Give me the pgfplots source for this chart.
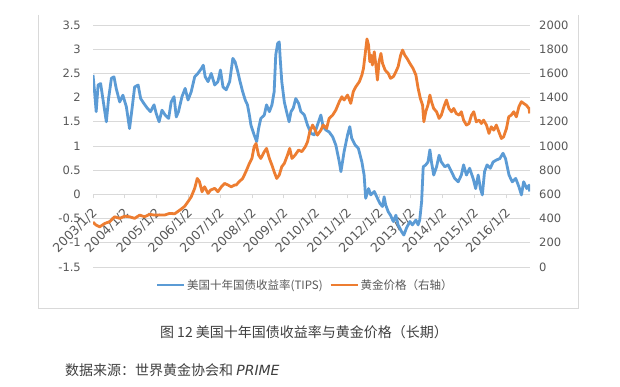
\documentclass[border=0pt]{standalone}
\usepackage{pgfplots}
\usepackage{pgfplotstable}
\pgfplotsset{compat=1.18}
\usepackage{fontspec}
\setmainfont{DejaVu Sans}
\newfontfamily\cjk{Noto Sans CJK SC}
\definecolor{tipsblue}{HTML}{5B9BD5}
\definecolor{goldor}{HTML}{ED7D31}
\definecolor{tickgray}{HTML}{595959}
\definecolor{gridgray}{HTML}{D9D9D9}
\definecolor{textgray}{HTML}{404040}

\pgfplotstableread{
year tips
2003.00 2.47
2003.05 2.12
2003.10 1.71
2003.16 2.26
2003.24 2.29
2003.31 1.98
2003.42 1.50
2003.49 1.98
2003.58 2.40
2003.66 2.43
2003.73 2.19
2003.84 1.91
2003.94 2.05
2004.05 1.81
2004.15 1.36
2004.23 1.78
2004.31 2.22
2004.42 2.26
2004.50 1.98
2004.60 1.88
2004.71 1.78
2004.81 1.71
2004.92 1.85
2004.99 1.67
2005.08 1.50
2005.17 1.74
2005.27 1.64
2005.38 1.57
2005.46 1.91
2005.55 2.02
2005.62 1.60
2005.69 1.71
2005.80 2.02
2005.90 2.19
2005.99 1.95
2006.09 2.12
2006.20 2.43
2006.30 2.50
2006.41 2.60
2006.47 2.67
2006.53 2.43
2006.62 2.33
2006.72 2.50
2006.83 2.26
2006.93 2.33
2007.01 2.57
2007.09 2.22
2007.19 2.16
2007.30 2.33
2007.40 2.81
2007.47 2.74
2007.55 2.55
2007.62 2.35
2007.71 2.12
2007.79 1.95
2007.86 1.85
2007.92 1.64
2007.97 1.43
2008.07 1.23
2008.15 1.09
2008.21 1.36
2008.28 1.57
2008.39 1.64
2008.46 1.85
2008.55 1.71
2008.63 1.85
2008.70 2.12
2008.75 2.88
2008.81 3.12
2008.86 3.15
2008.89 2.81
2008.94 2.33
2009.02 1.91
2009.09 1.71
2009.17 1.50
2009.23 1.71
2009.30 1.78
2009.38 1.98
2009.47 1.88
2009.54 1.71
2009.65 1.64
2009.75 1.43
2009.86 1.26
2009.96 1.23
2010.06 1.43
2010.17 1.64
2010.24 1.40
2010.33 1.33
2010.43 1.29
2010.54 1.19
2010.64 1.02
2010.75 0.67
2010.80 0.47
2010.85 0.67
2010.90 0.88
2011.01 1.23
2011.08 1.40
2011.14 1.16
2011.25 1.02
2011.35 0.95
2011.46 0.67
2011.53 0.40
2011.58 -0.08
2011.67 0.12
2011.74 -0.01
2011.85 0.06
2011.95 -0.08
2012.03 -0.19
2012.11 -0.25
2012.16 -0.05
2012.21 -0.22
2012.29 -0.36
2012.36 -0.43
2012.45 -0.56
2012.53 -0.43
2012.60 -0.63
2012.71 -0.77
2012.78 -0.84
2012.86 -0.70
2012.97 -0.56
2013.05 -0.63
2013.16 -0.53
2013.23 -0.63
2013.28 -0.53
2013.34 -0.15
2013.39 0.57
2013.47 0.61
2013.54 0.67
2013.60 0.92
2013.65 0.67
2013.72 0.40
2013.81 0.57
2013.89 0.81
2013.96 0.67
2014.07 0.57
2014.17 0.61
2014.28 0.47
2014.38 0.33
2014.49 0.26
2014.59 0.40
2014.66 0.61
2014.75 0.40
2014.85 0.54
2014.96 0.33
2015.04 0.12
2015.12 0.40
2015.19 0.12
2015.25 -0.01
2015.32 0.47
2015.40 0.61
2015.50 0.54
2015.59 0.67
2015.69 0.71
2015.80 0.74
2015.90 0.85
2015.98 0.74
2016.09 0.40
2016.19 0.26
2016.30 0.33
2016.40 0.16
2016.48 -0.01
2016.55 0.26
2016.65 0.12
2016.72 0.19
2016.74 0.06
}\tipsdata

\pgfplotstableread{
year gold
2003.00 370
2003.10 346
2003.21 332
2003.37 360
2003.52 374
2003.68 415
2003.84 402
2004.00 420
2004.15 415
2004.31 402
2004.47 429
2004.62 415
2004.78 435
2004.94 429
2005.10 430
2005.25 429
2005.41 443
2005.57 440
2005.73 470
2005.88 500
2005.99 540
2006.09 580
2006.20 650
2006.28 732
2006.35 705
2006.43 622
2006.51 663
2006.62 608
2006.70 636
2006.83 650
2006.93 622
2007.04 663
2007.14 691
2007.25 677
2007.35 663
2007.45 677
2007.50 677
2007.60 705
2007.71 732
2007.81 787
2007.92 856
2008.00 897
2008.07 994
2008.13 1021
2008.21 925
2008.28 897
2008.39 953
2008.46 980
2008.55 897
2008.63 842
2008.70 787
2008.78 732
2008.86 760
2008.94 829
2009.02 856
2009.12 925
2009.19 980
2009.26 897
2009.36 925
2009.47 967
2009.57 953
2009.68 994
2009.75 1035
2009.82 1117
2009.91 1173
2009.99 1131
2010.06 1090
2010.17 1131
2010.24 1173
2010.35 1145
2010.43 1228
2010.54 1255
2010.64 1297
2010.75 1366
2010.83 1407
2010.90 1380
2011.01 1421
2011.11 1352
2011.19 1449
2011.27 1490
2011.38 1531
2011.46 1586
2011.51 1641
2011.56 1751
2011.62 1885
2011.67 1834
2011.71 1696
2011.75 1751
2011.79 1669
2011.85 1779
2011.90 1669
2011.95 1545
2012.00 1696
2012.06 1765
2012.11 1683
2012.19 1628
2012.25 1610
2012.29 1600
2012.36 1559
2012.45 1573
2012.53 1614
2012.60 1655
2012.68 1751
2012.74 1793
2012.81 1751
2012.88 1724
2012.97 1683
2013.07 1641
2013.16 1586
2013.23 1476
2013.30 1393
2013.37 1338
2013.41 1200
2013.47 1283
2013.54 1338
2013.60 1421
2013.65 1366
2013.72 1310
2013.81 1283
2013.89 1228
2013.96 1255
2014.04 1324
2014.12 1380
2014.20 1310
2014.28 1283
2014.35 1310
2014.43 1269
2014.52 1255
2014.59 1283
2014.66 1214
2014.75 1173
2014.83 1186
2014.91 1255
2014.98 1283
2015.06 1200
2015.15 1214
2015.22 1186
2015.29 1214
2015.38 1173
2015.46 1104
2015.53 1159
2015.61 1131
2015.69 1173
2015.77 1117
2015.85 1062
2015.92 1076
2016.01 1145
2016.08 1241
2016.16 1255
2016.24 1283
2016.32 1241
2016.40 1324
2016.48 1366
2016.55 1352
2016.63 1338
2016.72 1310
2016.74 1269
}\golddata

\begin{document}
\begin{tikzpicture}
\path[use as bounding box] (0,0) rectangle (620pt,-387pt);
\fill[white] (0,0) rectangle (620pt,-387pt);
\draw[gridgray, line width=0.8pt] (38pt,-15pt) -- (38pt,-308pt) -- (578pt,-308pt) -- (578pt,-15pt);
\begin{axis}[
  at={(93pt,-267pt)}, anchor=south west,
  scale only axis, width=437pt, height=242pt,
  xmin=2003, xmax=2016.75, ymin=-1.5, ymax=3.5,
  enlargelimits=false,
  axis x line=middle, axis y line=left,
  hide obscured x ticks=false, hide obscured y ticks=false,
  x axis line style={-, draw=gridgray, line width=0.8pt},
  y axis line style={draw=none},
  xtick={2003,2004,2005,2006,2007,2008,2009,2010,2011,2012,2013,2014,2015,2016},
  xticklabels={2003/1/2,2004/1/2,2005/1/2,2006/1/2,2007/1/2,2008/1/2,2009/1/2,2010/1/2,2011/1/2,2012/1/2,2013/1/2,2014/1/2,2015/1/2,2016/1/2},
  ytick={-1.5,-1,-0.5,0,0.5,1,1.5,2,2.5,3,3.5},
  ymajorgrids, grid style={gridgray, line width=0.8pt},
  xtick style={draw=gridgray, line width=0.8pt},
  xtick align=outside, major tick length=4pt,
  ytick style={draw=none},
  /pgf/number format/assume math mode=true,
  tick label style={font=\fontsize{11.5}{13}\selectfont, text=tickgray},
  xticklabel style={xshift=2pt, yshift=-12pt, rotate=45, anchor=east, inner sep=0pt, font=\fontsize{12.5}{14}\selectfont},
  yticklabel style={inner sep=0pt, xshift=-10pt, anchor=east},
  legend style={draw=none, fill=none, at={(0.485,-0.074)}, anchor=center,
    legend columns=2, font=\cjk\fontsize{11.5}{13}\selectfont, text=tickgray,
    /tikz/every even column/.append style={column sep=5pt},
    inner sep=0pt, nodes={inner sep=1.5pt}},
  legend image code/.code={\draw[#1] (0pt,0pt) -- (27pt,0pt);},
]
\addplot[tipsblue, line width=2.8pt, line join=round] table[x=year, y=tips] {\tipsdata};
\addlegendentry{美国十年国债收益率(TIPS)}
\addlegendimage{goldor, line width=2.8pt}
\addlegendentry{黄金价格（右轴）}
\end{axis}
\begin{axis}[
  at={(93pt,-267pt)}, anchor=south west,
  scale only axis, width=437pt, height=242pt,
  xmin=2003, xmax=2016.75, ymin=0, ymax=2000,
  enlargelimits=false,
  axis x line=none, axis y line*=right,
  y axis line style={draw=none},
  ytick={0,200,400,600,800,1000,1200,1400,1600,1800,2000},
  ytick style={draw=none},
  scaled y ticks=false,
  /pgf/number format/1000 sep={},
  /pgf/number format/assume math mode=true,
  tick label style={font=\fontsize{11.5}{13}\selectfont, text=tickgray},
  yticklabel style={inner sep=0pt, xshift=9pt, anchor=west},
]
\addplot[goldor, line width=2.8pt, line join=round] table[x=year, y=gold] {\golddata};
\end{axis}
\node[font=\cjk\fontsize{14}{16}\selectfont, text=textgray] at (304pt,-332pt) {图 12 美国十年国债收益率与黄金价格（长期）};
\node[font=\cjk\fontsize{14}{16}\selectfont, text=textgray, anchor=west, inner sep=0pt] at (65pt,-370pt) {数据来源：世界黄金协会和 {\fontspec{DejaVu Sans}\itshape PRIME}};
\end{tikzpicture}
\end{document}
